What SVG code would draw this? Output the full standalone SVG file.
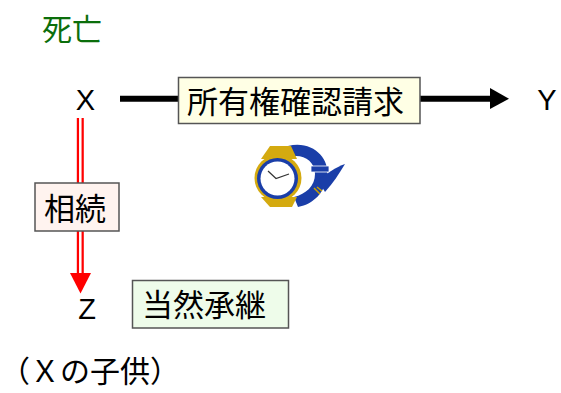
<svg xmlns="http://www.w3.org/2000/svg" width="561" height="393" viewBox="0 0 561 393">
<style>
.t{font-family:"Noto Sans CJK JP","Liberation Sans",sans-serif;font-size:31px;fill:#000}
.l{font-family:"Liberation Sans",sans-serif;font-size:29px;fill:#000;text-anchor:middle}
.box{stroke:#555;stroke-width:1.5}
</style>
<rect width="561" height="393" fill="#fff"/>
<text class="t" x="42" y="40" style="fill:#0b6e0b;font-size:30px">死亡</text>
<g id="connectors">
  <line x1="120" y1="98.7" x2="491" y2="98.7" stroke="#000" stroke-width="6"/>
  <polygon points="490,88 509,98.7 490,109" fill="#000"/>
  <line x1="80.3" y1="118" x2="80.3" y2="274" stroke="#ff0000" stroke-width="7"/>
  <line x1="80.3" y1="118" x2="80.3" y2="274" stroke="#fff" stroke-width="2.5"/>
  <polygon points="70,273 91,273 80.5,293.5" fill="#ff0000"/>
</g>
<g id="nodeX"><text class="l" x="85.5" y="109.5">X</text></g>
<g id="nodeY"><text class="l" x="547" y="109.5">Y</text></g>
<g id="nodeZ"><text class="l" x="87" y="318.5">Z</text></g>
<g id="claim">
  <rect class="box" x="178.5" y="77.5" width="241.5" height="46" fill="#ffffe5"/>
  <text class="t" x="187" y="113">所有権確認請求</text>
</g>
<g id="inherit">
  <rect class="box" x="35" y="183" width="84" height="48" fill="#fff3ef"/>
  <text class="t" x="44" y="220">相続</text>
</g>
<g id="succession">
  <rect class="box" x="132.5" y="280.5" width="156" height="47.5" fill="#eefcea"/>
  <text class="t" x="142" y="316">当然承継</text>
</g>
<g id="child"><text class="t" x="0" y="382" style="font-size:30px">（Ｘの子供）</text></g>
<g id="watch">
  <path d="M288,146 C312,140 330,158 327,176 C325,192 314,204 298,207 L294,197 C306,194 315,186 315,174 C315,162 305,155 294,156 Z" fill="#1a3ea8"/>
  <path d="M318,180 C326,174 336,167 345,164 C339,174 333,183 325,192 Z" fill="#1a3ea8"/>
  <rect x="311" y="166" width="18" height="6" fill="#1a3ea8" stroke="#fff" stroke-width="0.8"/>
  <path d="M314,188 l6,6 m-3,-7 l5,4" stroke="#c9a000" stroke-width="1.5" fill="none"/>
  <path d="M270,146 L291,146 L297,159 L261,159 Z" fill="#d4aa10"/>
  <path d="M261,197 L297,197 L292,207 L270,207 Z" fill="#d4aa10"/>
  <circle cx="278" cy="178" r="23.5" fill="#d4aa10"/>
  <circle cx="277.5" cy="178.5" r="20.5" fill="#1a3ea8"/>
  <circle cx="277.5" cy="178.5" r="17" fill="#fff"/>
  <path d="M268,171 L276,178.5 L289,174" stroke="#333" stroke-width="1.2" fill="none"/>
</g>
</svg>
